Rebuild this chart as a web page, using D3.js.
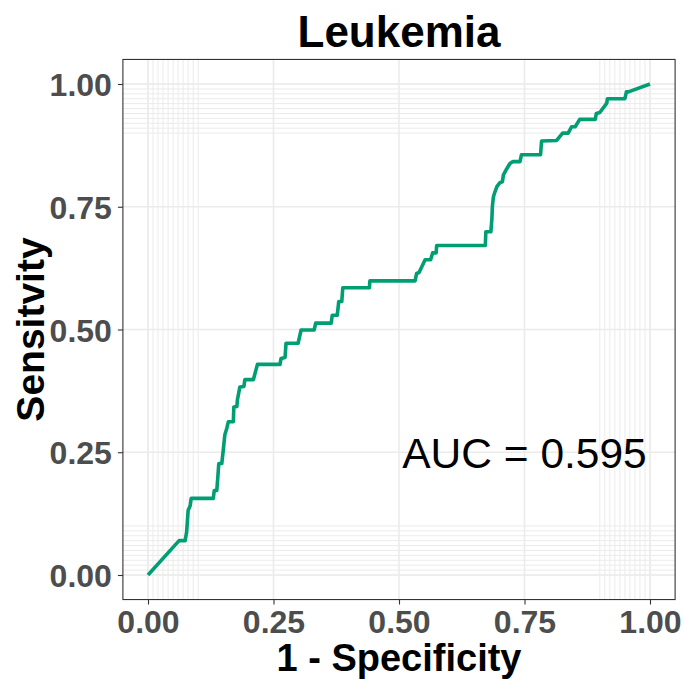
<!DOCTYPE html>
<html>
<head>
<meta charset="utf-8">
<script src="https://cdn.jsdelivr.net/npm/d3@7"></script>
<style>
  html, body { margin: 0; padding: 0; background: #ffffff; }
  svg { display: block; }
</style>
</head>
<body>
<script>
// ---- Data ----
const title = "Leukemia";
const xTitle = "1 - Specificity";
const yTitle = "Sensitvity";
const aucLabel = "AUC = 0.595";
const tickValues = [0, 0.25, 0.5, 0.75, 1];
const tickLabels = ["0.00", "0.25", "0.50", "0.75", "1.00"];
const fineGrid = [0,0.01,0.02,0.03,0.04,0.05,0.06,0.07,0.08,0.09,0.10,
                  0.90,0.91,0.92,0.93,0.94,0.95,0.96,0.97,0.98,0.99,1.00];
const fpr = [0,0.062,0.074,0.077,0.080,0.084,0.086,0.130,0.132,0.137,0.139,0.141,0.147,0.150,0.153,0.157,0.160,0.170,
  0.171,0.177,0.178,0.183,0.191,0.193,0.210,0.218,0.263,0.265,0.273,0.275,0.299,0.305,0.331,0.334,0.365,0.367,0.377,
  0.380,0.386,0.388,0.441,0.442,0.532,0.535,0.540,0.552,0.563,0.567,0.574,0.575,0.672,0.673,0.683,0.685,0.686,0.688,
  0.691,0.695,0.701,0.706,0.708,0.715,0.721,0.727,0.741,0.744,0.782,0.784,0.814,0.826,0.837,0.844,0.851,0.860,0.891,
  0.893,0.900,0.914,0.915,0.950,0.953,0.957,1];
const tpr = [0,0.070,0.070,0.088,0.132,0.141,0.156,0.156,0.172,0.172,0.198,0.227,0.227,0.255,0.285,0.299,0.312,0.312,
  0.342,0.343,0.356,0.383,0.384,0.398,0.398,0.429,0.429,0.441,0.443,0.472,0.472,0.499,0.499,0.513,0.513,0.529,0.529,
  0.557,0.557,0.585,0.585,0.599,0.599,0.614,0.616,0.642,0.642,0.656,0.656,0.671,0.671,0.699,0.699,0.725,0.750,0.770,
  0.780,0.791,0.799,0.801,0.815,0.828,0.838,0.842,0.842,0.856,0.856,0.884,0.885,0.900,0.900,0.913,0.913,0.928,0.928,
  0.940,0.942,0.961,0.970,0.970,0.984,0.984,1];
const aucPos = [0.75, 0.25];

// ---- Layout ----
const W = 684, H = 679;
const svg = d3.select("body").append("svg").attr("width", W).attr("height", H);
const x = d3.scaleLinear().domain([0, 1]).range([148, 650]);
const y = d3.scaleLinear().domain([0, 1]).range([575, 84]);
const px0 = x(-0.05), px1 = x(1.05), py0 = y(1.05), py1 = y(-0.05);
const font = "'Liberation Sans', Arial, Helvetica, sans-serif";

// panel background
svg.append("rect").attr("x", px0).attr("y", py0).attr("width", px1 - px0).attr("height", py1 - py0)
  .attr("fill", "#ffffff");

// grids
const g = svg.append("g");
g.selectAll("line.fx").data(fineGrid).join("line")
  .attr("x1", d => x(d)).attr("x2", d => x(d)).attr("y1", py0).attr("y2", py1)
  .attr("stroke", "#ebebeb").attr("stroke-width", 1);
g.selectAll("line.fy").data(fineGrid).join("line").attr("class", "fy")
  .attr("y1", d => y(d)).attr("y2", d => y(d)).attr("x1", px0).attr("x2", px1)
  .attr("stroke", "#ebebeb").attr("stroke-width", 1);
g.selectAll("line.mx").data(tickValues).join("line").attr("class", "mx")
  .attr("x1", d => x(d)).attr("x2", d => x(d)).attr("y1", py0).attr("y2", py1)
  .attr("stroke", "#ebebeb").attr("stroke-width", 1.6);
g.selectAll("line.my").data(tickValues).join("line").attr("class", "my")
  .attr("y1", d => y(d)).attr("y2", d => y(d)).attr("x1", px0).attr("x2", px1)
  .attr("stroke", "#ebebeb").attr("stroke-width", 1.6);

// ROC line
const line = d3.line().x((d, i) => x(fpr[i])).y((d, i) => y(tpr[i]));
svg.append("path").datum(fpr).attr("d", line)
  .attr("fill", "none").attr("stroke", "#009E73").attr("stroke-width", 3.6)
  .attr("stroke-linejoin", "round").attr("stroke-linecap", "butt");

// AUC annotation
svg.append("text").attr("x", x(aucPos[0])).attr("y", y(aucPos[1]))
  .attr("text-anchor", "middle").attr("dy", "0.36em")
  .attr("font-family", font).attr("font-size", 42.5).attr("fill", "#000000")
  .text(aucLabel);

// panel border
svg.append("rect").attr("x", px0).attr("y", py0).attr("width", px1 - px0).attr("height", py1 - py0)
  .attr("fill", "none").attr("stroke", "#333333").attr("stroke-width", 1.1);

// axes
const xAxis = d3.axisBottom(x).tickValues(tickValues).tickFormat((d, i) => tickLabels[i])
  .tickSize(5).tickPadding(6);
const yAxis = d3.axisLeft(y).tickValues(tickValues).tickFormat((d, i) => tickLabels[i])
  .tickSize(5).tickPadding(6);
const gx = svg.append("g").attr("transform", `translate(0,${py1})`).call(xAxis);
const gy = svg.append("g").attr("transform", `translate(${px0},0)`).call(yAxis);
[gx, gy].forEach(a => {
  a.select(".domain").remove();
  a.selectAll(".tick line").attr("stroke", "#333333").attr("stroke-width", 1.1);
  a.selectAll(".tick text").attr("font-family", font).attr("font-size", 32)
    .attr("font-weight", "bold").attr("fill", "#4d4d4d");
});
gx.selectAll(".tick text").attr("dy", "0.71em");
gy.selectAll(".tick text").attr("dy", "0.36em");

// titles
svg.append("text").attr("x", (px0 + px1) / 2).attr("y", 47).attr("text-anchor", "middle")
  .attr("font-family", font).attr("font-size", 44).attr("font-weight", "bold").attr("fill", "#000")
  .text(title);
svg.append("text").attr("x", (px0 + px1) / 2).attr("y", 671).attr("text-anchor", "middle")
  .attr("font-family", font).attr("font-size", 38).attr("font-weight", "bold").attr("fill", "#000")
  .text(xTitle);
svg.append("text").attr("transform", `translate(44,${(py0 + py1) / 2}) rotate(-90)`).attr("text-anchor", "middle")
  .attr("font-family", font).attr("font-size", 39).attr("font-weight", "bold").attr("fill", "#000")
  .text(yTitle);
</script>
</body>
</html>
